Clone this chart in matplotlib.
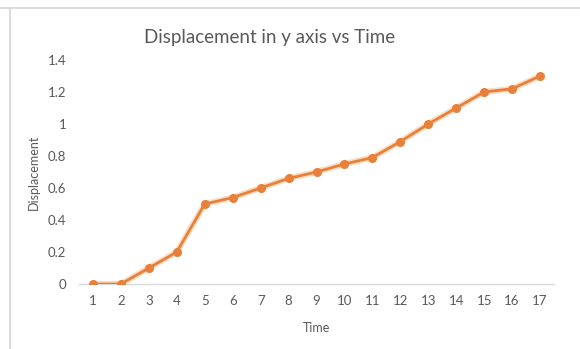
import matplotlib.pyplot as plt
from matplotlib.lines import Line2D

# --- Data ---
time = list(range(1, 18))
displacement = [0, 0, 0.1, 0.2, 0.5, 0.54, 0.6, 0.66, 0.7, 0.75, 0.79,
                0.89, 1.0, 1.1, 1.2, 1.22, 1.3]
y_ticks = [0, 0.2, 0.4, 0.6, 0.8, 1, 1.2, 1.4]
y_tick_labels = ['0', '0.2', '0.4', '0.6', '0.8', '1', '1.2', '1.4']

text_grey = '#595959'
orange = '#E8803A'

plt.rcParams['font.family'] = ['Lato', 'DejaVu Sans']

fig = plt.figure(figsize=(5.8, 3.49), dpi=100)
ax = fig.add_axes([79 / 580, 1 - 284 / 349, (554 - 79) / 580, (284 - 60) / 349])

# soft glow under the line, then the line itself
ax.plot(time, displacement, color='#F6C9A4', linewidth=4.5, alpha=0.6,
        solid_capstyle='round', zorder=2)
ax.plot(time, displacement, color=orange, linewidth=2.0, marker='o',
        markersize=5.5, markeredgecolor=orange, zorder=3)

ax.set_xlim(0.5, 17.5)
ax.set_ylim(0, 1.4)
ax.set_xticks(time)
ax.set_yticks(y_ticks)
ax.set_yticklabels(y_tick_labels)
ax.tick_params(axis='both', length=0, labelsize=9.5, colors=text_grey)
ax.tick_params(axis='x', pad=8)
ax.tick_params(axis='y', pad=9)

for side in ['top', 'right', 'left']:
    ax.spines[side].set_visible(False)
ax.spines['bottom'].set_color('#D9D9D9')
ax.spines['bottom'].set_linewidth(1.0)

fig.text(270 / 580, 1 - 37 / 349, 'Displacement in y axis vs Time',
         fontsize=13.5, color=text_grey, ha='center', va='center')
ax.set_xlabel('Time', fontsize=9, color=text_grey, labelpad=11)
fig.text(34 / 580, 1 - 172 / 349, 'Displacement', rotation=90, fontsize=9,
         color=text_grey, ha='center', va='center')

# chart border (top and left edges visible)
fig.add_artist(Line2D([0, 1], [1 - 8 / 349, 1 - 8 / 349],
                      transform=fig.transFigure, color='#D4D4D4', linewidth=1.2))
fig.add_artist(Line2D([10 / 580, 10 / 580], [0, 1 - 8 / 349],
                      transform=fig.transFigure, color='#D4D4D4', linewidth=1.2))

fig.savefig('out.png', dpi=100)
